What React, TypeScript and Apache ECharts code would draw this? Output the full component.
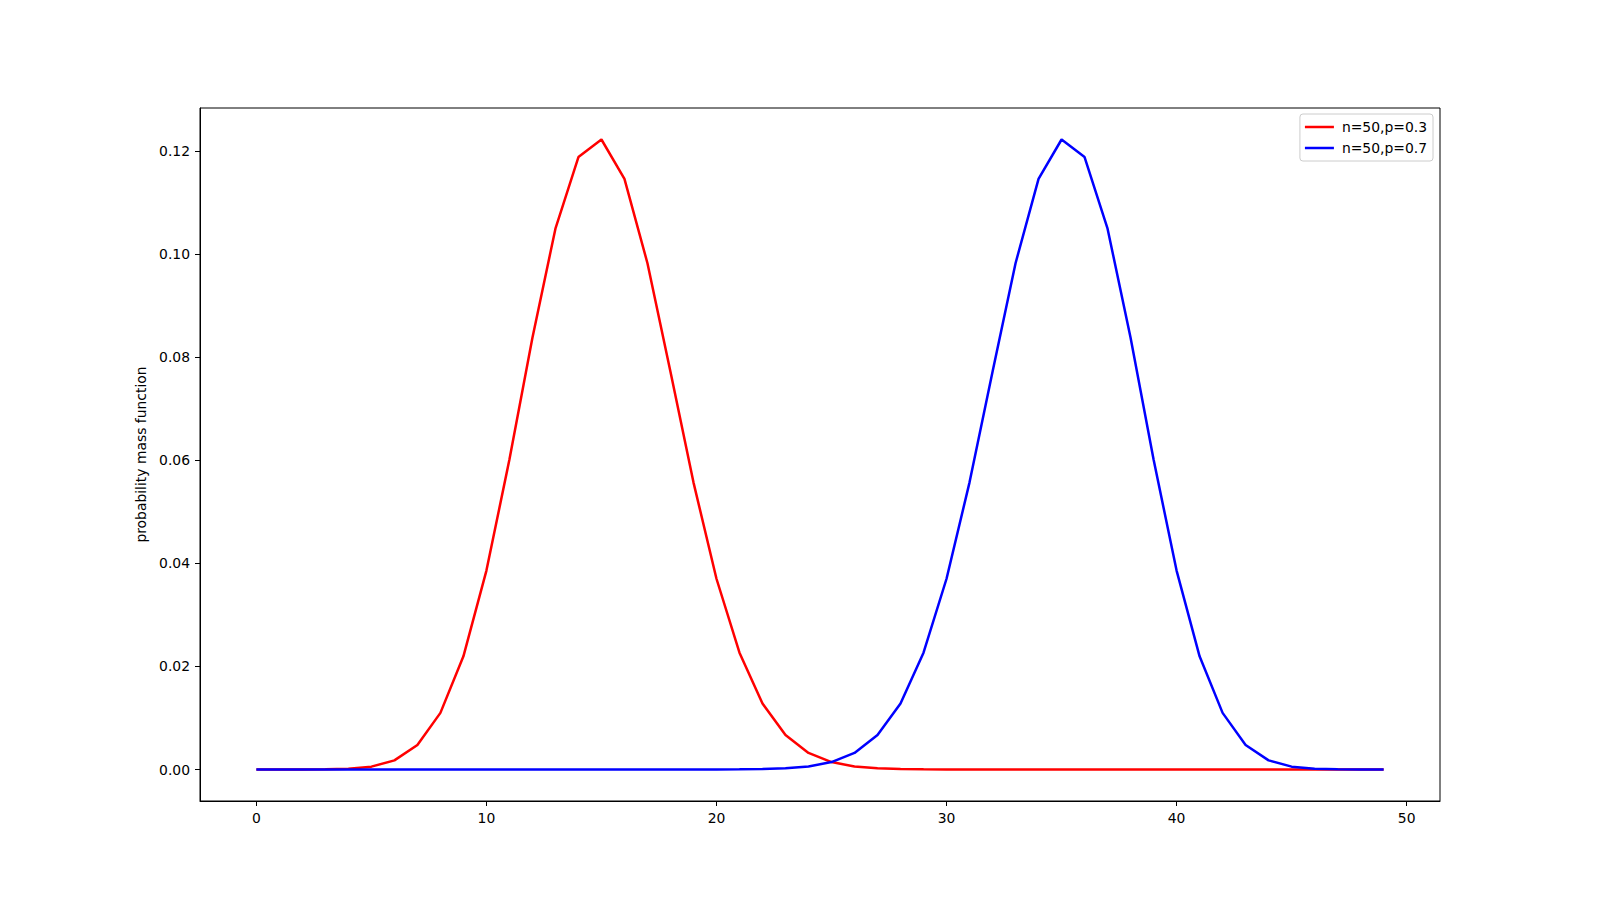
import React, { useEffect, useRef } from "react";
import * as echarts from "echarts";

const xValues: number[] = Array.from({ length: 50 }, (_, i) => i);

const pmfP03: number[] = [
  0.00000002, 0.0000004, 0.000004, 0.0000278, 0.00014, 0.00055, 0.00177, 0.00477, 0.01099, 0.02197,
  0.03861, 0.06017, 0.08381, 0.10499, 0.1189, 0.1223, 0.11466, 0.09828, 0.07722, 0.05574,
  0.03703, 0.02267, 0.01281, 0.00668, 0.00322, 0.00144, 0.00059, 0.00023, 0.00008, 0.000026,
  0.0000077, 0.000002, 0.0000005, 0.0000001, 0, 0, 0, 0, 0, 0,
  0, 0, 0, 0, 0, 0, 0, 0, 0, 0,
];

const pmfP07: number[] = [
  0, 0, 0, 0, 0, 0, 0, 0, 0, 0,
  0, 0, 0, 0, 0, 0, 0, 0.0000001, 0.0000005, 0.000002,
  0.0000077, 0.000026, 0.00008, 0.00023, 0.00059, 0.00144, 0.00322, 0.00668, 0.01281, 0.02267,
  0.03703, 0.05574, 0.07722, 0.09828, 0.11466, 0.1223, 0.1189, 0.10499, 0.08381, 0.06017,
  0.03861, 0.02197, 0.01099, 0.00477, 0.00177, 0.00055, 0.00014, 0.0000278, 0.000004, 0.0000004,
];

const xTicks: number[] = [0, 10, 20, 30, 40, 50];
const yTicks: number[] = [0, 0.02, 0.04, 0.06, 0.08, 0.1, 0.12];
const seriesNames: string[] = ["n=50,p=0.3", "n=50,p=0.7"];

const FONT = "DejaVu Sans";
const FS = 13.9;

export default function App() {
  const ref = useRef<HTMLDivElement>(null);
  useEffect(() => {
    const chart = echarts.init(ref.current!, null, { renderer: "svg" });
    const d1 = xValues.map((x, i) => [x, pmfP03[i]]);
    const d2 = xValues.map((x, i) => [x, pmfP07[i]]);
    chart.setOption({
      animation: false,
      backgroundColor: "#fff",
      textStyle: { fontFamily: FONT },
      grid: {
        left: 200,
        right: 160,
        top: 108,
        bottom: 99,
        show: true,
        borderColor: "#000",
        borderWidth: 1,
        backgroundColor: "transparent",
      },
      legend: {
        orient: "vertical",
        right: 167,
        top: 114,
        data: seriesNames,
        icon: "rect",
        backgroundColor: "rgba(255,255,255,0.8)",
        borderColor: "#ccc",
        borderWidth: 1,
        borderRadius: 3,
        padding: [6, 6, 6, 5],
        itemWidth: 29,
        itemHeight: 2.5,
        itemGap: 7,
        textStyle: { fontFamily: FONT, fontSize: FS, color: "#000", padding: [0, 0, 0, 3], lineHeight: 14 },
      },
      xAxis: {
        type: "value",
        min: -2.45,
        max: 51.45,
        splitLine: { show: false },
        axisLine: { show: true, onZero: false, lineStyle: { color: "#000", width: 1 } },
        axisTick: {
          show: true,
          length: 5,
          customValues: xTicks,
          lineStyle: { color: "#000", width: 1 },
        },
        axisLabel: {
          customValues: xTicks,
          margin: 10,
          fontFamily: FONT,
          fontSize: FS,
          color: "#000",
        },
      },
      yAxis: {
        type: "value",
        min: -0.006115,
        max: 0.128415,
        name: "probability mass function",
        nameLocation: "middle",
        nameGap: 42,
        nameTextStyle: { fontFamily: FONT, fontSize: FS, color: "#000" },
        splitLine: { show: false },
        axisLine: { show: true, onZero: false, lineStyle: { color: "#000", width: 1 } },
        axisTick: {
          show: true,
          length: 5,
          customValues: yTicks,
          lineStyle: { color: "#000", width: 1 },
        },
        axisLabel: {
          customValues: yTicks,
          margin: 10,
          fontFamily: FONT,
          fontSize: FS,
          color: "#000",
          formatter: (v: number) => v.toFixed(2),
        },
      },
      series: [
        {
          name: seriesNames[0],
          type: "line",
          data: d1,
          symbol: "none",
          lineStyle: { color: "red", width: 2.5 },
          itemStyle: { color: "red" },
        },
        {
          name: seriesNames[1],
          type: "line",
          data: d2,
          symbol: "none",
          lineStyle: { color: "blue", width: 2.5 },
          itemStyle: { color: "blue" },
        },
      ],
    });
    return () => chart.dispose();
  }, []);
  return (
    <div
      ref={ref}
      style={{ position: "fixed", left: 0, top: 0, width: 1600, height: 900 }}
    />
  );
}
